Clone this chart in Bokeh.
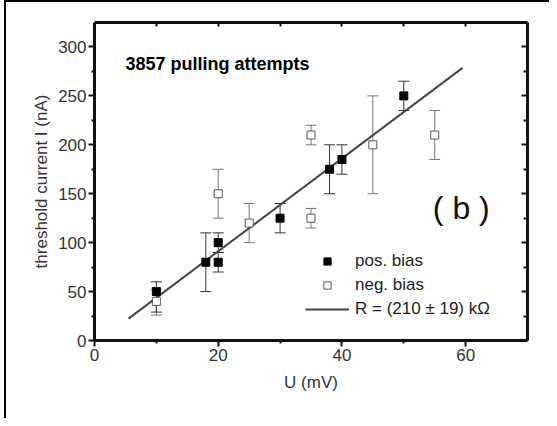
from bokeh.plotting import figure
from bokeh.models import (Range1d, LinearAxis, Whisker, TeeHead, ColumnDataSource,
                          Legend, LegendItem, Label, FixedTicker)
from bokeh.embed import file_html
from bokeh.resources import INLINE

# ---- data ----
pos_u = [10, 18, 20, 20, 30, 38, 40, 50]
pos_i = [50, 80, 100, 80, 125, 175, 185, 250]
pos_lo = [29, 50, 90, 70, 110, 150, 170, 235]
pos_hi = [60, 110, 110, 90, 140, 200, 200, 265]

neg_u = [10, 20, 25, 35, 35, 45, 55]
neg_i = [40, 150, 120, 210, 125, 200, 210]
neg_lo = [26, 125, 100, 200, 115, 150, 185]
neg_hi = [52, 175, 140, 220, 135, 250, 235]

fit_u = [5.5, 59.5]
fit_i = [22.4, 278.6]

x_major = [0, 20, 40, 60]
x_minor = [10, 30, 50]
top_ticks = [10, 20, 30, 40, 50, 60]
y_major = [0, 50, 100, 150, 200, 250, 300]
y_minor = [25, 75, 125, 175, 225, 275]

title_text = "3857 pulling attempts"
panel_text = "( b )"
x_label = "U (mV)"
y_label = "threshold current I (nA)"
legend_labels = ["pos. bias", "neg. bias", "R = (210 \u00b1 19) k\u03a9"]

FONT = "Liberation Sans"

p = figure(frame_width=433, frame_height=318,
           min_border_left=88, min_border_right=22, min_border_top=20, min_border_bottom=78,
           x_range=Range1d(0, 70), y_range=Range1d(0, 325),
           output_backend="svg", toolbar_location=None,
           background_fill_color="white", border_fill_color="white")
p.outline_line_color = None
p.grid.visible = False
# outer frame of the figure panel (top and left edges visible in the picture)
p.styles = {"border-top": "2px solid black", "border-left": "2px solid black",
            "margin-left": "4px"}

def style_axis(ax):
    ax.axis_line_width = 3
    ax.axis_line_color = "#111111"
    ax.major_tick_line_color = "#111111"
    ax.minor_tick_line_color = "#111111"
    ax.major_tick_line_width = 2
    ax.minor_tick_line_width = 2
    ax.major_label_text_font = FONT
    ax.major_label_text_font_size = "17px"
    ax.major_label_text_color = "#333333"
    ax.axis_label_text_font = FONT
    ax.axis_label_text_font_style = "normal"
    ax.axis_label_text_font_size = "17px"
    ax.axis_label_text_color = "#333333"

xa = p.xaxis[0]
style_axis(xa)
xa.ticker = FixedTicker(ticks=x_major, minor_ticks=x_minor)
xa.major_tick_out = 6
xa.major_tick_in = 0
xa.minor_tick_out = 3
xa.minor_tick_in = 0
xa.major_label_standoff = 2
xa.axis_label = x_label
xa.axis_label_standoff = 9

ya = p.yaxis[0]
style_axis(ya)
ya.ticker = FixedTicker(ticks=y_major, minor_ticks=y_minor)
ya.major_tick_out = 6
ya.major_tick_in = 0
ya.minor_tick_out = 3
ya.minor_tick_in = 0
ya.major_label_standoff = 2
ya.axis_label = y_label
ya.axis_label_standoff = 4

top = LinearAxis(ticker=FixedTicker(ticks=top_ticks, minor_ticks=[]))
style_axis(top)
top.major_tick_in = 4
top.major_tick_out = 0
top.major_label_text_font_size = "0px"
top.major_label_text_color = None
top.major_label_standoff = 0
p.add_layout(top, "above")

right = LinearAxis(ticker=FixedTicker(ticks=y_major, minor_ticks=y_minor))
style_axis(right)
right.major_tick_in = 6
right.major_tick_out = 0
right.minor_tick_in = 4
right.minor_tick_out = 0
right.major_label_text_font_size = "0px"
right.major_label_text_color = None
right.major_label_standoff = 0
p.add_layout(right, "right")

src_pos = ColumnDataSource(dict(u=pos_u, i=pos_i, lo=pos_lo, hi=pos_hi))
src_neg = ColumnDataSource(dict(u=neg_u, i=neg_i, lo=neg_lo, hi=neg_hi))

for src, col in ((src_neg, "#777777"), (src_pos, "#333333")):
    w = Whisker(source=src, base="u", lower="lo", upper="hi", dimension="height",
                line_color=col, line_width=1,
                upper_head=TeeHead(size=11, line_color=col, line_width=1),
                lower_head=TeeHead(size=11, line_color=col, line_width=1))
    p.add_layout(w)

r_line = p.line(fit_u, fit_i, line_color="#444444", line_width=2)
r_neg = p.scatter("u", "i", source=src_neg, marker="square", size=8,
                  fill_color="white", line_color="#555555", line_width=1)
r_pos = p.scatter("u", "i", source=src_pos, marker="square", size=8,
                  fill_color="black", line_color="black", line_width=1)

legend = Legend(items=[LegendItem(label=legend_labels[0], renderers=[r_pos]),
                       LegendItem(label=legend_labels[1], renderers=[r_neg]),
                       LegendItem(label=legend_labels[2], renderers=[r_line])],
                location=(211, 21), glyph_width=44, glyph_height=18, label_height=20,
                spacing=4, padding=0, margin=0, label_standoff=6,
                border_line_color=None, background_fill_alpha=0,
                label_text_font=FONT, label_text_font_size="17px", label_text_color="#222222")
p.add_layout(legend)

p.add_layout(Label(x=5, y=283, text=title_text, text_font=FONT, text_font_style="bold",
                   text_font_size="18px", text_color="black", text_baseline="alphabetic"))
p.add_layout(Label(x=59.3, y=135, text=panel_text, text_font=FONT, text_font_size="32px",
                   text_color="#111111", text_align="center", text_baseline="middle"))

open("out.html", "w").write(file_html(p, INLINE))
